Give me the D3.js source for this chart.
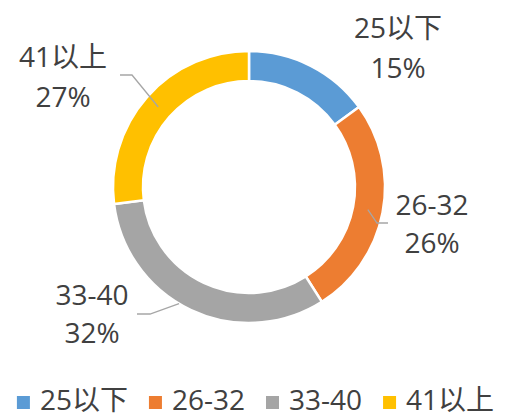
<!DOCTYPE html>
<html><head><meta charset="utf-8">
<script src="https://cdn.jsdelivr.net/npm/d3@7"></script>
<style>body{margin:0;background:#fff}svg{display:block}</style>
</head><body>
<svg id="chart" width="511" height="419"></svg>
<script>
const categories = ["25以下", "26-32", "33-40", "41以上"];
const values = [15, 26, 32, 27];
const percentLabels = ["15%", "26%", "32%", "27%"];
const colors = ["#5B9BD5", "#ED7D31", "#A5A5A5", "#FFC000"];

const W = 511, H = 419;
const cx = 249, cy = 187, R = 136, r0 = 106;
const font = "'Open Sans', 'Noto Sans CJK SC', sans-serif";
const textColor = "#404040";
const fs = 28;

// label layout (annotation placement)
const labelLayout = [
  {x: 398, y1: 38, y2: 78, leader: null},
  {x: 432, y1: 215, y2: 253, leader: [[388,223],[377,223]]},
  {x: 92, y1: 305, y2: 343, leader: [[137,314],[150,314]]},
  {x: 63, y1: 67, y2: 107, leader: [[120,75],[132,75]]}
];

const svg = d3.select("#chart");
svg.append("rect").attr("width", W).attr("height", H).attr("fill", "#fff");

const pie = d3.pie().sort(null).value(d => d)(values);
const arc = d3.arc().innerRadius(r0).outerRadius(R);
const midArc = d3.arc().innerRadius((r0 + R) / 2).outerRadius((r0 + R) / 2);

const g = svg.append("g").attr("transform", `translate(${cx},${cy})`);
g.selectAll("path").data(pie).join("path")
  .attr("d", arc)
  .attr("fill", (d, i) => colors[i])
  .attr("stroke", "#fff")
  .attr("stroke-width", 2.5);

// leader lines
pie.forEach((d, i) => {
  const L = labelLayout[i];
  if (!L.leader) return;
  let c = midArc.centroid(d);
  if (i === 2) {
    const a = d.startAngle + (d.endAngle - d.startAngle) * 0.55;
    c = [R * Math.sin(a), -R * Math.cos(a)];
  }
  const pts = L.leader.concat([[cx + c[0], cy + c[1]]]);
  svg.append("polyline")
    .attr("points", pts.map(p => p.join(",")).join(" "))
    .attr("fill", "none").attr("stroke", "#A6A6A6").attr("stroke-width", 1.3);
});

// data labels
labelLayout.forEach((L, i) => {
  const t = svg.append("text").attr("text-anchor", "middle")
    .attr("font-family", font).attr("font-size", fs).attr("fill", textColor);
  t.append("tspan").attr("x", L.x).attr("y", L.y1).text(categories[i]);
  t.append("tspan").attr("x", L.x).attr("y", L.y2).text(percentLabels[i]);
});

// legend
const leg = svg.append("g");
let xpos = 0;
const sq = 13, gapSq = 10, gapItem = 21, legY = 410;
categories.forEach((c, i) => {
  leg.append("rect").attr("x", xpos).attr("y", legY - 14).attr("width", sq).attr("height", sq)
    .attr("fill", colors[i]);
  const t = leg.append("text").attr("x", xpos + sq + gapSq).attr("y", legY)
    .attr("font-family", font).attr("font-size", fs).attr("fill", textColor).text(c);
  xpos += sq + gapSq + t.node().getComputedTextLength() + gapItem;
});
const legW = xpos - gapItem;
leg.attr("transform", `translate(${(W - legW) / 2},0)`);
</script>
</body></html>
